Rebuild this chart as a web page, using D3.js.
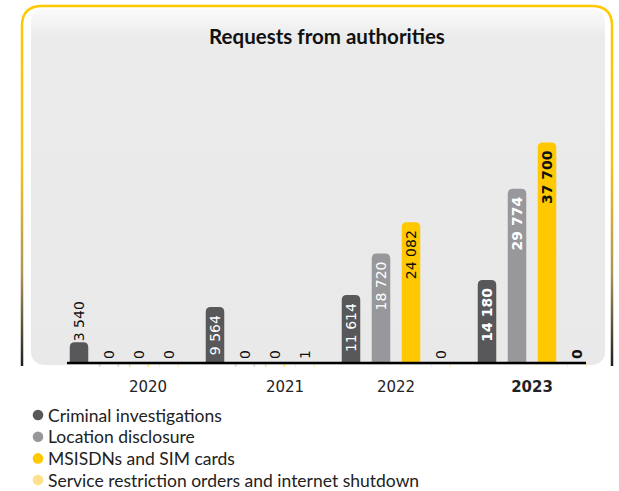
<!DOCTYPE html>
<html><head><meta charset="utf-8">
<script src="https://cdn.jsdelivr.net/npm/d3@7"></script>
<style>
html,body{margin:0;padding:0;background:#fff;}
svg{display:block;}
</style></head>
<body><svg id="chart" width="619" height="491"></svg>
<script>
const title = "Requests from authorities";
const years = ["2020", "2021", "2022", "2023"];
const series = ["Criminal investigations", "Location disclosure", "MSISDNs and SIM cards", "Service restriction orders and internet shutdown"];
const criminalValues = [3540, 9564, 11614, 14180];
const locationValues = [0, 0, 18720, 29774];
const msisdnValues = [0, 0, 24082, 37700];
const restrictionValues = [0, 1, 0, 0];
const valueLabels = [
  ["3 540", "9 564", "11 614", "14 180"],
  ["0", "0", "18 720", "29 774"],
  ["0", "0", "24 082", "37 700"],
  ["0", "1", "0", "0"]
];
const highlightYear = "2023";

const colors = ["#58585b", "#98989c", "#ffc800", "#ffe08c"];
const labelColors = ["#ffffff", "#ffffff", "#111111", "#111111"];

const svg = d3.select("#chart");
const defs = svg.append("defs");

const bg = defs.append("linearGradient").attr("id", "borderGrad").attr("gradientUnits", "userSpaceOnUse")
  .attr("x1", 0).attr("y1", 6).attr("x2", 0).attr("y2", 366);
bg.append("stop").attr("offset", "0%").attr("stop-color", "#ffc800");
bg.append("stop").attr("offset", "45%").attr("stop-color", "#f3c21c");
bg.append("stop").attr("offset", "75%").attr("stop-color", "#a8945a");
bg.append("stop").attr("offset", "100%").attr("stop-color", "#1e1e1e");

const pg = defs.append("linearGradient").attr("id", "panelGrad").attr("x1", 0).attr("y1", 0).attr("x2", 0).attr("y2", 1);
pg.append("stop").attr("offset", "0%").attr("stop-color", "#fbfbfb");
pg.append("stop").attr("offset", "8%").attr("stop-color", "#ebebeb");
pg.append("stop").attr("offset", "100%").attr("stop-color", "#e9e9e9");

const cx0 = 22, cy0 = 6, cx1 = 612, cy1 = 366, cr = 20;
svg.append("path")
  .attr("d", `M${cx0},${cy1} L${cx0},${cy0+cr} Q${cx0},${cy0} ${cx0+cr},${cy0} L${cx1-cr},${cy0} Q${cx1},${cy0} ${cx1},${cy0+cr} L${cx1},${cy1}`)
  .attr("fill", "none").attr("stroke", "url(#borderGrad)").attr("stroke-width", 2.5);

svg.append("rect").attr("x", 31).attr("y", 9).attr("width", 574).attr("height", 356)
  .attr("rx", 13).attr("fill", "url(#panelGrad)");

svg.append("text").attr("x", 327).attr("y", 44).attr("text-anchor", "middle")
  .attr("font-family", "Lato, 'Open Sans', sans-serif").attr("font-weight", 700)
  .attr("font-size", 20.5).attr("fill", "#111").text(title);

const baseY = 363;
const x0 = d3.scaleBand().domain(years).range([64, 592]).paddingInner(16/136).paddingOuter(0);
const x1 = d3.scaleBand().domain(d3.range(series.length)).range([0, x0.bandwidth()]).paddingInner(11.5/30).paddingOuter(5.75/30);
const y = d3.scaleLinear().domain([0, 37700]).range([baseY, 142.5]);

const data = [criminalValues, locationValues, msisdnValues, restrictionValues];
const rows = [];
years.forEach((yr, gi) => {
  data.forEach((arr, si) => {
    rows.push({year: yr, s: si, v: arr[gi], label: valueLabels[si][gi]});
  });
});

function barPath(x, w, top, bottom, r) {
  r = Math.min(r, (bottom - top), w/2);
  return `M${x},${bottom} L${x},${top+r} Q${x},${top} ${x+r},${top} L${x+w-r},${top} Q${x+w},${top} ${x+w},${top+r} L${x+w},${bottom} Z`;
}

const g = svg.append("g");
const bw = x1.bandwidth();

rows.filter(d => baseY - y(d.v) < 1).forEach(d => {
  const bx = x0(d.year) + x1(d.s);
  [bx, bx + bw].forEach(xx => {
    g.append("line").attr("x1", xx).attr("x2", xx).attr("y1", baseY).attr("y2", baseY + 4)
      .attr("stroke", d.s === 1 ? "#bbb" : colors[d.s]).attr("stroke-width", 1).attr("opacity", 0.8);
  });
});

g.selectAll("path.bar").data(rows.filter(d => baseY - y(d.v) >= 1)).join("path")
  .attr("class", "bar")
  .attr("d", d => barPath(x0(d.year) + x1(d.s), bw, y(d.v), baseY + 1, 5))
  .attr("fill", d => colors[d.s]);

svg.append("line").attr("x1", 67).attr("x2", 586).attr("y1", baseY).attr("y2", baseY)
  .attr("stroke", "#000").attr("stroke-width", 2.5);

const fontFam = "'DejaVu Sans', Verdana, sans-serif";
rows.forEach(d => {
  const cxp = x0(d.year) + x1(d.s) + bw / 2;
  const h = baseY - y(d.v);
  const bold = d.year === highlightYear;
  const tmp = svg.append("text").attr("font-family", fontFam).attr("font-size", 14)
    .attr("font-weight", bold ? 700 : 400).text(d.label);
  const tw = tmp.node().getComputedTextLength();
  tmp.remove();
  const inside = h > tw + 14;
  let ty, anchor, fill;
  if (inside) { ty = y(d.v) + 8; anchor = "end"; fill = labelColors[d.s]; }
  else { ty = (h < 1 ? baseY - 4 : y(d.v) - 1); anchor = "start"; fill = "#111"; }
  svg.append("text")
    .attr("transform", `translate(${cxp},${ty}) rotate(-90)`)
    .attr("text-anchor", anchor).attr("dominant-baseline", "central")
    .attr("font-family", fontFam).attr("font-size", 14)
    .attr("font-weight", bold ? 700 : 400).attr("fill", fill).text(d.label);
});

const yearOffset = [24, 25, 0, 0];
years.forEach((yr, i) => {
  svg.append("text").attr("x", x0(yr) + x0.bandwidth() / 2 + yearOffset[i]).attr("y", 392)
    .attr("text-anchor", "middle").attr("font-family", fontFam).attr("font-size", 15)
    .attr("font-weight", yr === highlightYear ? 700 : 400).attr("fill", "#222").text(yr);
});

const leg = svg.append("g");
series.forEach((s, i) => {
  const ly = 415 + i * 21.7;
  leg.append("circle").attr("cx", 38).attr("cy", ly).attr("r", 5.3).attr("fill", colors[i]);
  leg.append("text").attr("x", 48).attr("y", ly).attr("dominant-baseline", "central")
    .attr("font-family", "Lato, 'Open Sans', sans-serif").attr("font-size", 17.5)
    .attr("fill", "#222").text(s);
});
</script></body></html>
